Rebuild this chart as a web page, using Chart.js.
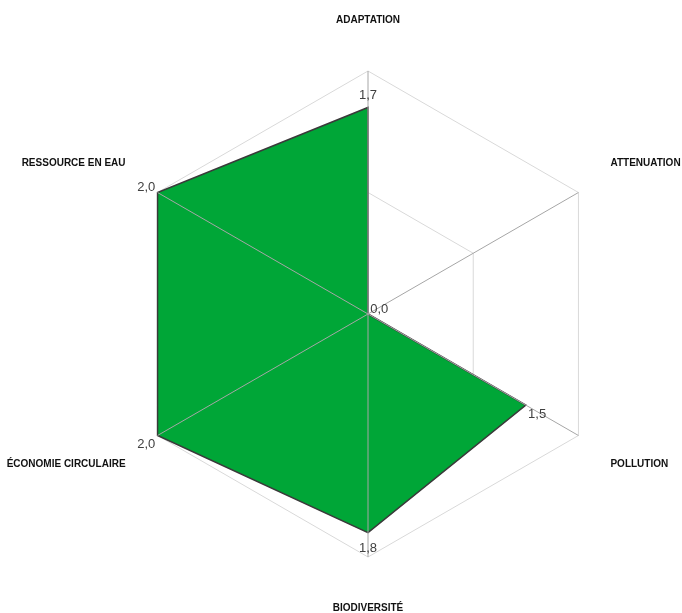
<!DOCTYPE html>
<html>
<head>
<meta charset="utf-8">
<script src="https://cdn.jsdelivr.net/npm/chart.js@4"></script>
<style>
html,body{margin:0;padding:0;background:#fff;}
#wrap{width:682px;height:613px;}
</style>
</head>
<body>
<div id="wrap"><canvas id="c" width="682" height="613"></canvas></div>
<script>
const categories = ["ADAPTATION", "ATTENUATION", "POLLUTION", "BIODIVERSITÉ", "ÉCONOMIE CIRCULAIRE", "RESSOURCE EN EAU"];
const values = [1.7, 0.0, 1.5, 1.8, 2.0, 2.0];
const scaleMin = 0;
const scaleMax = 2;

const fmt = v => v.toFixed(1).replace('.', ',');

const overlay = {
  id: 'overlay',
  afterDatasetsDraw(chart) {
    const s = chart.scales.r;
    const ctx = chart.ctx;
    const R = s.drawingArea;
    ctx.save();
    // spokes above fill
    ctx.strokeStyle = '#a6a6a6';
    ctx.lineWidth = 1;
    for (let i = 0; i < categories.length; i++) {
      const p = s.getPointPosition(i, R);
      ctx.beginPath();
      ctx.moveTo(s.xCenter, s.yCenter);
      ctx.lineTo(p.x, p.y);
      ctx.stroke();
    }
    // value labels
    ctx.font = '13px "Liberation Sans", Arial, sans-serif';
    ctx.fillStyle = '#404040';
    ctx.textAlign = 'center';
    ctx.textBaseline = 'middle';
    const meta = chart.getDatasetMeta(0);
    meta.data.forEach((pt, i) => {
      const a = s.getIndexAngle(i) - Math.PI / 2;
      const dx = Math.cos(a), dy = Math.sin(a);
      ctx.fillText(fmt(values[i]), pt.x + dx * 13, pt.y + dy * 14 + 2);
    });
    // category labels
    ctx.font = 'bold 10px "Liberation Sans", Arial, sans-serif';
    ctx.fillStyle = '#111111';
    categories.forEach((lab, i) => {
      const p = s.getPointPosition(i, R);
      const a = s.getIndexAngle(i) - Math.PI / 2;
      const dx = Math.cos(a), dy = Math.sin(a);
      if (Math.abs(dx) < 0.1) {
        ctx.textAlign = 'center';
        ctx.fillText(lab, p.x, p.y + dy * 51);
      } else {
        ctx.textAlign = dx > 0 ? 'left' : 'right';
        ctx.fillText(lab, p.x + Math.sign(dx) * 32, p.y + Math.sign(dy) * 29);
      }
    });
    ctx.restore();
  }
};

new Chart(document.getElementById('c'), {
  type: 'radar',
  data: {
    labels: categories,
    datasets: [{
      data: values,
      backgroundColor: '#00a637',
      borderColor: '#3a3a3a',
      borderWidth: 1.5,
      fill: true,
      pointRadius: 0,
      pointHoverRadius: 0
    }]
  },
  options: {
    responsive: false,
    animation: false,
    devicePixelRatio: 1,
    layout: { padding: { left: 125, right: 71, top: 71, bottom: 56 } },
    plugins: { legend: { display: false }, tooltip: { enabled: false } },
    scales: {
      r: {
        min: scaleMin,
        max: scaleMax,
        ticks: { display: false, stepSize: 1 },
        grid: { color: '#d9d9d9', lineWidth: 1 },
        angleLines: { display: false },
        pointLabels: { display: false }
      }
    }
  },
  plugins: [overlay]
});
</script>
</body>
</html>
